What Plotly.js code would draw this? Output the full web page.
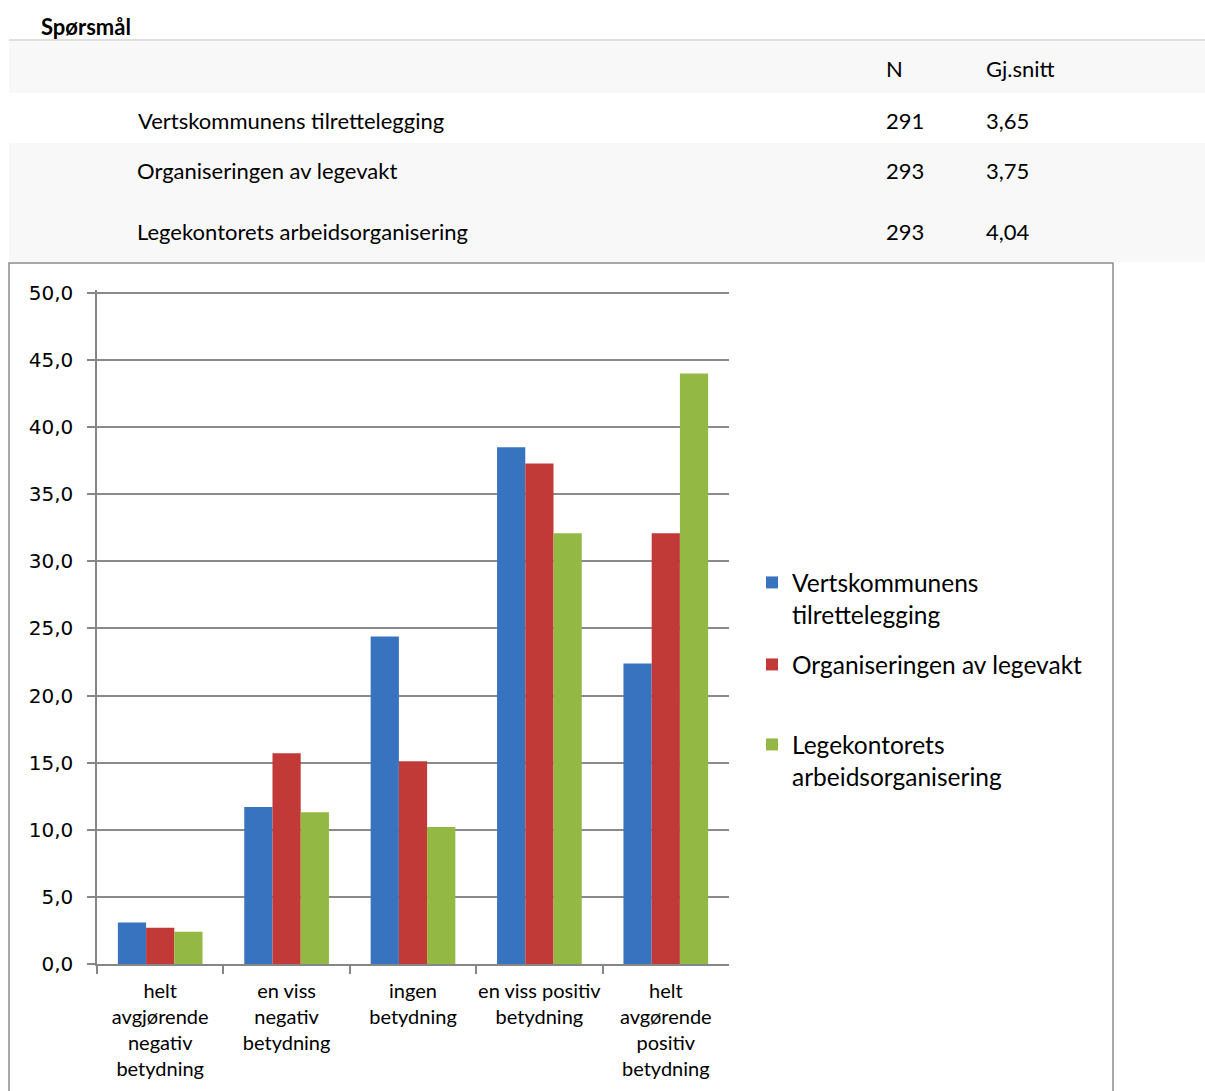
<!DOCTYPE html>
<html>
<head>
<meta charset="utf-8">
<script src="https://cdn.plot.ly/plotly-3.0.1.min.js"></script>
<style>html,body{margin:0;padding:0;background:#fff;}#chart{width:1205px;height:1091px;}</style>
</head>
<body>
<div id="chart"></div>
<script>
// ---- data ----
const categories = [
  "helt<br>avgjørende<br>negativ<br>betydning",
  "en viss<br>negativ<br>betydning",
  "ingen<br>betydning",
  "en viss positiv<br>betydning",
  "helt<br>avgørende<br>positiv<br>betydning"
];
const seriesNames = ["Vertskommunens tilrettelegging", "Organiseringen av legevakt", "Legekontorets arbeidsorganisering"];
const legendLabels = ["Vertskommunens<br>tilrettelegging", "Organiseringen av legevakt", "Legekontorets<br>arbeidsorganisering"];
const vertskommunen = [3.1, 11.7, 24.4, 38.5, 22.4];
const legevakt = [2.7, 15.7, 15.1, 37.3, 32.1];
const legekontor = [2.4, 11.3, 10.2, 32.1, 44.0];
const tableN = ["291", "293", "293"];
const tableMean = ["3,65", "3,75", "4,04"];
const tableHeader = ["N", "Gj.snitt"];
const yTicks = [0, 5, 10, 15, 20, 25, 30, 35, 40, 45, 50];

// ---- helpers (pixel -> paper) ----
const W = 1205, H = 1091;
const px = x => x / W;
const py = y => 1 - y / H;

const colors = ["#3873bf", "#c23a37", "#93b843"];
const seriesValues = [vertskommunen, legevakt, legekontor];
const legendIds = ["legend", "legend2", "legend3"];

const traces = seriesValues.map((vals, i) => ({
  type: "bar",
  x: categories,
  y: vals,
  name: legendLabels[i],
  legend: legendIds[i],
  marker: {color: colors[i], line: {width: 0}},
  hoverinfo: "y+name"
}));

const calibriLike = "Lato, 'Open Sans', sans-serif";
const tableFont = {family: calibriLike, size: 22, color: "#000"};

const annotations = [];
// table header
annotations.push({xref: "paper", yref: "paper", x: px(884), y: py(69), xanchor: "left", yanchor: "middle",
  text: tableHeader[0], showarrow: false, font: tableFont});
annotations.push({xref: "paper", yref: "paper", x: px(984), y: py(69), xanchor: "left", yanchor: "middle",
  text: tableHeader[1], showarrow: false, font: tableFont});
const rowY = [120, 171, 231];
seriesNames.forEach((name, i) => {
  annotations.push({xref: "paper", yref: "paper", x: px(i === 0 ? 136 : 135), y: py(rowY[i]), xanchor: "left", yanchor: "middle",
    text: name, showarrow: false, font: tableFont});
  annotations.push({xref: "paper", yref: "paper", x: px(884), y: py(rowY[i]), xanchor: "left", yanchor: "middle",
    text: tableN[i], showarrow: false, font: tableFont});
  annotations.push({xref: "paper", yref: "paper", x: px(984), y: py(rowY[i]), xanchor: "left", yanchor: "middle",
    text: tableMean[i], showarrow: false, font: tableFont});
});

const shapes = [
  {type: "rect", xref: "paper", yref: "paper", x0: px(9), x1: px(1205), y0: py(93), y1: py(41), fillcolor: "#f8f8f8", line: {width: 0}, layer: "below"},
  {type: "rect", xref: "paper", yref: "paper", x0: px(9), x1: px(1205), y0: py(262), y1: py(143), fillcolor: "#f8f8f8", line: {width: 0}, layer: "below"},
  {type: "line", xref: "paper", yref: "paper", x0: px(9), x1: px(1205), y0: py(40), y1: py(40), line: {color: "#d4d4d4", width: 1.5}},
  {type: "rect", xref: "paper", yref: "paper", x0: px(9), x1: px(1113), y0: py(1100), y1: py(263), line: {color: "#8c8c8c", width: 1.5}, fillcolor: "rgba(0,0,0,0)", layer: "below"}
];

const legendBase = {
  xanchor: "left", yanchor: "top",
  font: {family: calibriLike, size: 24.5, color: "#000"},
  bgcolor: "rgba(0,0,0,0)", borderwidth: 0,
  valign: "top", itemclick: false, itemdoubleclick: false
};

// y range slightly above 50 so the 50,0 gridline is not clipped at the plot edge
const yMax = 50.2;
const pxPerUnit = (964 - 293) / 50;

const layout = {
  width: W, height: H,
  margin: {l: 0, r: 0, t: 0, b: 0, pad: 0},
  paper_bgcolor: "#fff", plot_bgcolor: "#fff",
  separators: ",.",
  title: {text: "<b>Spørsmål</b>", x: px(41), xanchor: "left", xref: "paper", y: py(27), yanchor: "middle", yref: "container",
    font: {family: calibriLike, size: 22, color: "#000"}},
  barmode: "group",
  bargap: 0.33,
  bargroupgap: 0,
  xaxis: {
    domain: [px(97), px(729)],
    type: "category",
    showgrid: false,
    showline: true, linecolor: "#868686", linewidth: 1.5,
    ticks: "outside", tickson: "boundaries", ticklen: 8, tickcolor: "#868686", tickwidth: 1.5,
    tickfont: {family: calibriLike, size: 20, color: "#000"},
    ticklabelstandoff: 8,
    tickangle: 0,
    fixedrange: true
  },
  yaxis: {
    domain: [py(964), py(964 - yMax * pxPerUnit)],
    range: [0, yMax],
    tickvals: yTicks,
    tickformat: ".1f",
    showgrid: true, gridcolor: "#8a8a8a", gridwidth: 1.5,
    showline: true, linecolor: "#868686", linewidth: 1.5,
    ticks: "outside", ticklen: 8, tickcolor: "#868686", tickwidth: 1.5,
    tickfont: {family: "'DejaVu Sans', sans-serif", size: 20, color: "#000"},
    ticklabelstandoff: 10,
    zeroline: false,
    fixedrange: true
  },
  legend: Object.assign({}, legendBase, {x: px(752), y: py(560)}),
  legend2: Object.assign({}, legendBase, {x: px(752), y: py(642)}),
  legend3: Object.assign({}, legendBase, {x: px(752), y: py(722)}),
  annotations: annotations,
  shapes: shapes,
  showlegend: true
};

Plotly.newPlot("chart", traces, layout, {displayModeBar: false, staticPlot: false});
</script>
</body>
</html>
